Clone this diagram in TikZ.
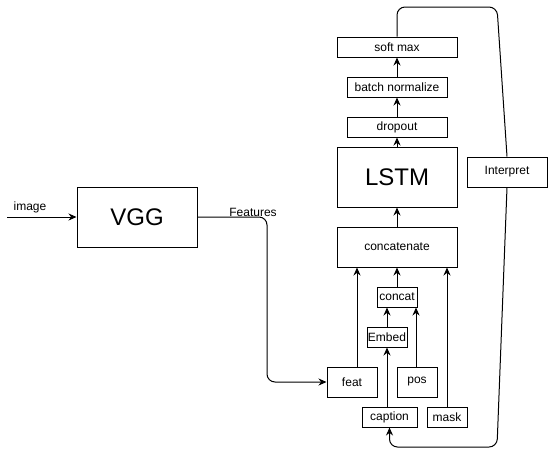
\documentclass[tikz,border=0pt]{standalone}
\usepackage{fontspec}
\setmainfont{Liberation Sans}
\usetikzlibrary{arrows.meta, calc}

\begin{document}
\begin{tikzpicture}[x=1pt, y=-1pt]

% Sizes and frame
\useasboundingbox (0,0) rectangle (548,456);
\fontsize{12}{14}\selectfont

% Block and arrow styles
\tikzset{blk/.style={draw, line width = 1pt, inner sep = 0pt, align = center}}
\tikzset{bigblk/.style={blk, font = \fontsize{24}{28}\selectfont}}
\tikzset{arr/.style={line width = 1pt, -{Stealth[length = 8pt, width = 7pt]}}}
\tikzset{ln/.style={line width = 1pt}}

% Blocks
\node (vgg) [bigblk, minimum width = 120pt, minimum height = 60pt] at (137,217) {VGG};

\node (softmax) [blk, minimum width = 120pt, minimum height = 20pt] at (397,47) {soft max};
\node (batchnorm) [blk, minimum width = 100pt, minimum height = 20pt] at (397,87) {batch normalize};
\node (dropout) [blk, minimum width = 100pt, minimum height = 20pt] at (397,127) {dropout};
\node (lstm) [bigblk, minimum width = 120pt, minimum height = 60pt] at (397,177) {LSTM};
\node (concatenate) [blk, minimum width = 120pt, minimum height = 40pt] at (397,247) {concatenate};
\node (concat) [blk, minimum width = 40pt, minimum height = 20pt] at (397,297) {concat};
\node (embed) [blk, minimum width = 40pt, minimum height = 20pt] at (387,337) {Embed};
\node (feat) [blk, minimum width = 50pt, minimum height = 30pt] at (352,382) {feat};
\node (pos) [blk, minimum width = 40pt, minimum height = 30pt] at (417,382) {pos};
\node (caption) [blk, minimum width = 55pt, minimum height = 20pt] at (389.5,417) {caption};
\node (mask) [blk, minimum width = 40pt, minimum height = 20pt] at (447,417) {mask};
\node (interp) [blk, minimum width = 80pt, minimum height = 30pt] at (507,172) {Interpret};

% Free ends and bends
\coordinate (img) at (7,217);
\coordinate (fbend) at (267,217);
\coordinate (ltop) at (497,7);
\coordinate (lbot) at (497,447);

% Labels
\node (imglbl) at (30,207) {image};
\node (featlbl) at (253,212) {Features};

% Main stack
\draw[arr] (img) -- (vgg.west);
\draw[arr, rounded corners = 8pt] (vgg.east) -- (fbend) |- (feat.west);

\draw[arr] (concatenate.north) -- (lstm.south);
\draw[arr] (lstm.north) -- (dropout.south);
\draw[arr] (dropout.north) -- (batchnorm.south);
\draw[arr] (batchnorm.north) -- (softmax.south);

% Inputs
\draw[arr] ([xshift = 5pt]feat.north) -- ([xshift = 5pt]feat.north |- concatenate.south);
\draw[arr] (concat.north) -- (concatenate.south);
\draw[arr] (mask.north) -- (mask.north |- concatenate.south);
\draw[arr] (embed.north) -- (embed.north |- concat.south);
\draw[arr] ([xshift = -1pt]pos.north) -- ([xshift = -1pt]pos.north |- concat.south);
\draw[arr] (caption.north -| embed.south) -- (embed.south);

% Feedback loop
\draw[ln, rounded corners = 8pt] (softmax.north) |- (ltop) -- (interp.north);
\draw[arr, rounded corners = 8pt] (interp.south) -- (lbot) -| (caption.south);

\end{tikzpicture}
\end{document}
